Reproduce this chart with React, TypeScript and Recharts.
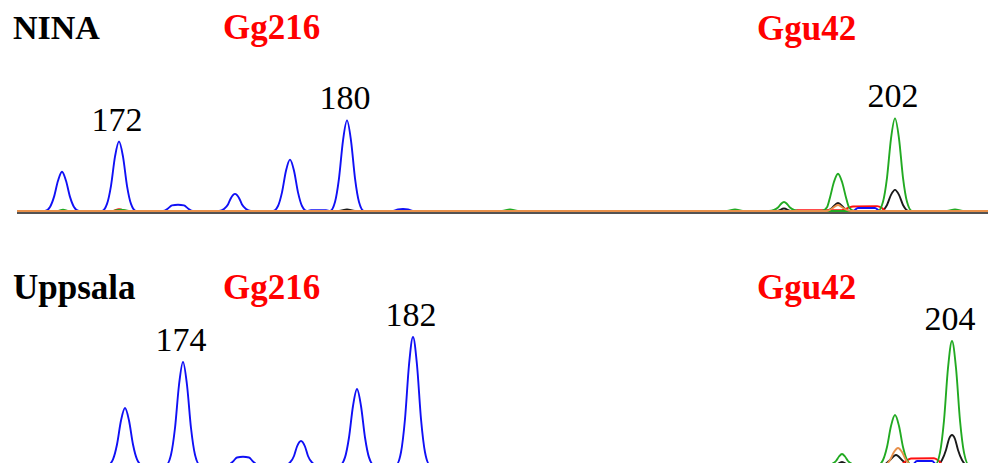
import React from "react";
import { LineChart, Line, XAxis, YAxis, ReferenceDot } from "recharts";

// scan position, signal (RFU) pairs
const ninaBlue = [
  [0, 0], [28, 0], [33, 40], [37, 140], [41, 300], [45, 390], [49, 300], [53, 140], [57, 40], [62, 0],
  [85, 0], [90, 70], [94, 250], [98, 540], [102, 690], [106, 540], [110, 250], [114, 70], [119, 0],
  [146, 0], [151, 25], [155, 55], [161, 62], [167, 55], [171, 25], [176, 0],
  [202, 0], [207, 20], [211, 65], [214, 130], [218, 170], [222, 130], [225, 65], [229, 20], [234, 0],
  [256, 0], [261, 50], [265, 185], [269, 400], [273, 510], [277, 400], [281, 185], [285, 50], [290, 0],
  [294, 8], [309, 8], [313, 0],
  [318, 90], [322, 325], [326, 700], [330, 900], [334, 700], [338, 325], [342, 90], [347, 0],
  [376, 0], [381, 15], [386, 20], [391, 15], [396, 0],
  [836, 0], [841, 30], [858, 30], [863, 0], [971, 0],
];
const ninaGreen = [
  [0, 0], [40, 0], [46, 12], [52, 0], [96, 0], [104, 14], [112, 0],
  [485, 0], [493, 15], [501, 0], [710, 0], [718, 15], [726, 0], [930, 0],
  [752, 0], [757, 10], [761, 35], [764, 70], [767, 90], [770, 70], [773, 35], [777, 10], [782, 0],
  [805, 0], [810, 37], [813, 135], [817, 290], [821, 370], [825, 290], [829, 135], [832, 37], [837, 0],
  [861, 0], [866, 92], [870, 330], [874, 720], [878, 920], [882, 720], [886, 330], [890, 92], [895, 0],
  [930, 0], [938, 15], [946, 0], [971, 0],
];
const ninaBlack = [
  [0, 0], [322, 0], [330, 15], [338, 0], [760, 0], [767, 25], [774, 0],
  [810, 0], [815, 30], [821, 80], [827, 30], [832, 0],
  [864, 0], [870, 60], [874, 160], [878, 210], [882, 160], [886, 60], [892, 0], [971, 0],
];
const ninaRed = [
  [0, 0], [95, 0], [102, 18], [110, 0], [775, 0], [780, 8], [825, 8],
  [831, 30], [836, 45], [860, 48], [865, 30], [869, 0], [971, 0],
];
const ninaOrange = [
  [0, 0], [810, 0], [815, 25], [821, 60], [827, 25], [834, 0], [971, 0],
];

const uppBlue = [
  [0, 0], [91, 0], [96, 57], [100, 205], [104, 445], [108, 570], [112, 445], [116, 205], [120, 57], [125, 0],
  [149, 0], [154, 103], [158, 370], [162, 800], [166, 1030], [170, 800], [174, 370], [178, 103], [183, 0],
  [211, 0], [216, 35], [220, 75], [226, 82], [232, 75], [236, 35], [241, 0],
  [268, 0], [273, 25], [277, 90], [280, 185], [284, 240], [288, 185], [291, 90], [295, 25], [300, 0],
  [323, 0], [328, 76], [332, 275], [336, 590], [340, 760], [344, 590], [348, 275], [352, 76], [357, 0],
  [379, 0], [384, 128], [388, 460], [392, 1000], [396, 1280], [400, 1000], [404, 460], [408, 128], [413, 0],
  [895, 0], [900, 40], [915, 40], [920, 0], [971, 0],
];
const uppGreen = [
  [0, 0], [810, 0], [815, 12], [819, 40], [822, 85], [825, 110], [828, 85], [831, 40], [835, 12], [840, 0],
  [861, 0], [866, 50], [870, 180], [874, 390], [878, 500], [882, 390], [886, 180], [890, 50], [895, 0],
  [918, 0], [923, 124], [927, 445], [931, 970], [935, 1240], [939, 970], [943, 445], [947, 124], [952, 0],
  [971, 0],
];
const uppBlack = [
  [0, 0], [818, 0], [825, 30], [832, 0], [866, 0], [872, 40], [879, 100], [886, 40], [892, 0],
  [920, 0], [925, 50], [929, 150], [932, 260], [935, 300], [938, 260], [941, 150], [945, 50], [950, 0],
  [971, 0],
];
const uppRed = [
  [0, 0], [850, 0], [855, 8], [884, 8], [889, 40], [894, 65], [917, 68], [922, 40], [926, 0], [971, 0],
];
const uppOrange = [
  [0, 0], [868, 0], [873, 50], [877, 130], [881, 170], [885, 130], [889, 50], [894, 0], [971, 0],
];

// allele calls: peak position, peak height, size label
const ninaCalls: [number, number, string][] = [
  [102, 690, "172"],
  [330, 900, "180"],
  [878, 920, "202"],
];
const uppCalls: [number, number, string][] = [
  [166, 1030, "174"],
  [396, 1280, "182"],
  [935, 1240, "204"],
];

const pts = (a: number[][]) => a.map(([x, y]) => ({ x, y }));

const SERIF = "Liberation Serif, Times New Roman, serif";

const CallLabel = (props: any) => (
  <text
    x={props.cx - 2}
    y={props.cy - 11}
    textAnchor="middle"
    style={{ fontFamily: SERIF, fontSize: 34 }}
    fill="#000"
  >
    {props.text}
  </text>
);

type Trace = { data: number[][]; color: string };

const Panel = ({
  traces,
  calls,
  top,
  height,
  marginTop,
}: {
  traces: Trace[];
  calls: [number, number, string][];
  top: number;
  height: number;
  marginTop: number;
}) => (
  <div style={{ position: "absolute", left: 0, top }}>
    <LineChart
      width={988}
      height={height}
      margin={{ top: marginTop, right: 0, left: 17, bottom: 16 }}
    >
      <XAxis
        dataKey="x"
        type="number"
        domain={[0, 971]}
        allowDataOverflow
        height={2}
        tick={false}
        tickLine={false}
        axisLine={{ stroke: "#1a1a1a", strokeWidth: 1.6 }}
      />
      <YAxis hide type="number" domain={[-20, 1490]} allowDataOverflow />
      {traces.map((t, i) => (
        <Line
          key={i}
          data={pts(t.data)}
          dataKey="y"
          type="monotone"
          stroke={t.color}
          strokeWidth={1.9}
          dot={false}
          isAnimationActive={false}
        />
      ))}
      {calls.map(([x, y, text]) => (
        <ReferenceDot
          key={text}
          x={x}
          y={y}
          r={0}
          shape={(p: any) => <CallLabel {...p} text={text} />}
        />
      ))}
    </LineChart>
  </div>
);

const App = () => {
  const title = { fontFamily: SERIF, fontWeight: 700, fontSize: 34 } as const;
  return (
    <div
      style={{
        position: "absolute",
        left: 0,
        top: 0,
        width: 988,
        height: 463,
        overflow: "hidden",
        background: "#fff",
      }}
    >
      <Panel
        top={0}
        height={231}
        marginTop={61}
        calls={ninaCalls}
        traces={[
          { data: ninaBlack, color: "#1a1a1a" },
          { data: ninaRed, color: "#ff1010" },
          { data: ninaBlue, color: "#1010f5" },
          { data: ninaGreen, color: "#22aa22" },
          { data: ninaOrange, color: "#e8904a" },
        ]}
      />
      <Panel
        top={240}
        height={245}
        marginTop={76}
        calls={uppCalls}
        traces={[
          { data: uppBlack, color: "#1a1a1a" },
          { data: uppRed, color: "#ff1010" },
          { data: uppBlue, color: "#1010f5" },
          { data: uppGreen, color: "#22aa22" },
          { data: uppOrange, color: "#e8904a" },
        ]}
      />
      <svg
        width={988}
        height={463}
        style={{ position: "absolute", left: 0, top: 0, pointerEvents: "none" }}
      >
        <text x={13} y={39} fill="#000" style={title}>NINA</text>
        <text x={223} y={39} fill="#ff0000" style={{ ...title, fontSize: 35 }}>Gg216</text>
        <text x={757} y={40} fill="#ff0000" style={{ ...title, fontSize: 35 }}>Ggu42</text>
        <text x={13} y={299} fill="#000" style={{ ...title, fontSize: 35 }}>Uppsala</text>
        <text x={223} y={299} fill="#ff0000" style={{ ...title, fontSize: 35 }}>Gg216</text>
        <text x={757} y={299} fill="#ff0000" style={{ ...title, fontSize: 35 }}>Ggu42</text>
      </svg>
    </div>
  );
};

export default App;
